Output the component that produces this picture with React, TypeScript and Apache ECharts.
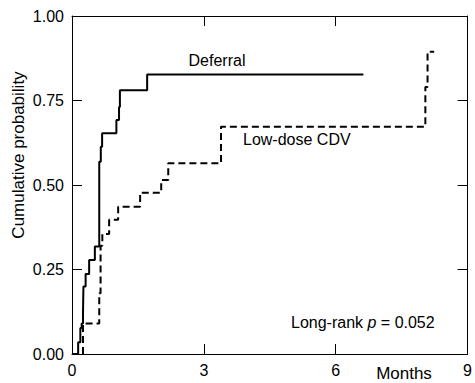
import React, { useEffect, useRef } from "react";
import * as echarts from "echarts";

// Kaplan-Meier style cumulative probability (time in months, cumulative probability after event)
const deferralMonths = [0, 0.14, 0.19, 0.22, 0.25, 0.26, 0.31, 0.39, 0.52, 0.62, 0.62, 0.655, 0.685, 1.01, 1.07, 1.09, 1.71, 6.63];
const deferralProb = [0, 0.035, 0.077, 0.09, 0.116, 0.2, 0.237, 0.278, 0.318, 0.352, 0.569, 0.613, 0.653, 0.692, 0.731, 0.78, 0.827, 0.827];

const cdvMonths = [0, 0.25, 0.62, 0.65, 0.69, 0.845, 1.05, 1.55, 2.03, 2.19, 3.39, 8.04, 8.09, 8.24];
const cdvProb = [0, 0.09, 0.18, 0.32, 0.355, 0.397, 0.436, 0.477, 0.515, 0.564, 0.672, 0.79, 0.894, 0.894];

const xTicks = [0, 3, 6, 9];
const yTicks = [0, 0.25, 0.5, 0.75, 1];

const FONT = "'Liberation Sans', Arial, Helvetica, sans-serif";

export default function App() {
  const ref = useRef<HTMLDivElement>(null);

  useEffect(() => {
    if (!ref.current) return;
    const chart = echarts.init(ref.current, undefined, { renderer: "svg" });
    const zip = (xs: number[], ys: number[]) => xs.map((x, i) => [x, ys[i]]);
    const axisLine = { show: true, onZero: false, lineStyle: { color: "#000", width: 1 } };
    const tick = { show: true, inside: true, length: 10, lineStyle: { color: "#000", width: 1 } };
    const xInterval = xTicks[1] - xTicks[0];
    const yInterval = yTicks[1] - yTicks[0];

    chart.setOption({
      animation: false,
      backgroundColor: "#fff",
      grid: { left: 72, right: 7, top: 16, bottom: 29 },
      xAxis: [
        {
          type: "value",
          min: xTicks[0],
          max: xTicks[xTicks.length - 1],
          interval: xInterval,
          position: "bottom",
          axisLine,
          axisTick: tick,
          splitLine: { show: false },
          axisLabel: { show: true, margin: 8, color: "#000", fontSize: 16, fontFamily: FONT },
        },
        {
          type: "value",
          min: xTicks[0],
          max: xTicks[xTicks.length - 1],
          interval: xInterval,
          position: "top",
          axisLine,
          axisTick: tick,
          splitLine: { show: false },
          axisLabel: { show: false },
        },
      ],
      yAxis: [
        {
          type: "value",
          min: yTicks[0],
          max: yTicks[yTicks.length - 1],
          interval: yInterval,
          position: "left",
          axisLine,
          axisTick: tick,
          splitLine: { show: false },
          axisLabel: {
            show: true,
            margin: 8,
            color: "#000",
            fontSize: 16,
            fontFamily: FONT,
            formatter: (v: number) => v.toFixed(2),
          },
        },
        {
          type: "value",
          min: yTicks[0],
          max: yTicks[yTicks.length - 1],
          interval: yInterval,
          position: "right",
          axisLine,
          axisTick: tick,
          splitLine: { show: false },
          axisLabel: { show: false },
        },
      ],
      series: [
        {
          name: "Deferral",
          type: "line",
          step: "end",
          xAxisIndex: 0,
          yAxisIndex: 0,
          showSymbol: false,
          symbol: "none",
          data: zip(deferralMonths, deferralProb),
          lineStyle: { color: "#000", width: 2, type: "solid" },
        },
        {
          name: "Low-dose CDV",
          type: "line",
          step: "end",
          xAxisIndex: 0,
          yAxisIndex: 0,
          showSymbol: false,
          symbol: "none",
          data: zip(cdvMonths, cdvProb),
          lineStyle: { color: "#000", width: 2, type: [7, 4] },
        },
      ],
      graphic: [
        {
          type: "text",
          x: 18,
          y: 155,
          rotation: Math.PI / 2,
          style: {
            text: "Cumulative probability",
            fill: "#000",
            font: `17px ${FONT}`,
            align: "center",
            verticalAlign: "middle",
          },
        },
        {
          type: "text",
          x: 404,
          y: 373,
          style: {
            text: "Months",
            fill: "#000",
            font: `17px ${FONT}`,
            align: "center",
            verticalAlign: "middle",
          },
        },
        {
          type: "text",
          x: 217,
          y: 60,
          style: {
            text: "Deferral",
            fill: "#000",
            font: `16px ${FONT}`,
            align: "center",
            verticalAlign: "middle",
          },
        },
        {
          type: "text",
          x: 243,
          y: 139,
          style: {
            text: "Low-dose CDV",
            fill: "#000",
            font: `16px ${FONT}`,
            align: "left",
            verticalAlign: "middle",
          },
        },
        {
          type: "text",
          x: 291,
          y: 322,
          style: {
            text: "Long-rank {i|p} = 0.052",
            fill: "#000",
            font: `16px ${FONT}`,
            align: "left",
            verticalAlign: "middle",
            rich: {
              i: { fontStyle: "italic", fontSize: 16, fontFamily: FONT, fill: "#000" },
            },
          },
        },
      ],
    });
    return () => chart.dispose();
  }, []);

  return (
    <div
      ref={ref}
      style={{ position: "fixed", left: 0, top: 0, width: 475, height: 383 }}
    />
  );
}
